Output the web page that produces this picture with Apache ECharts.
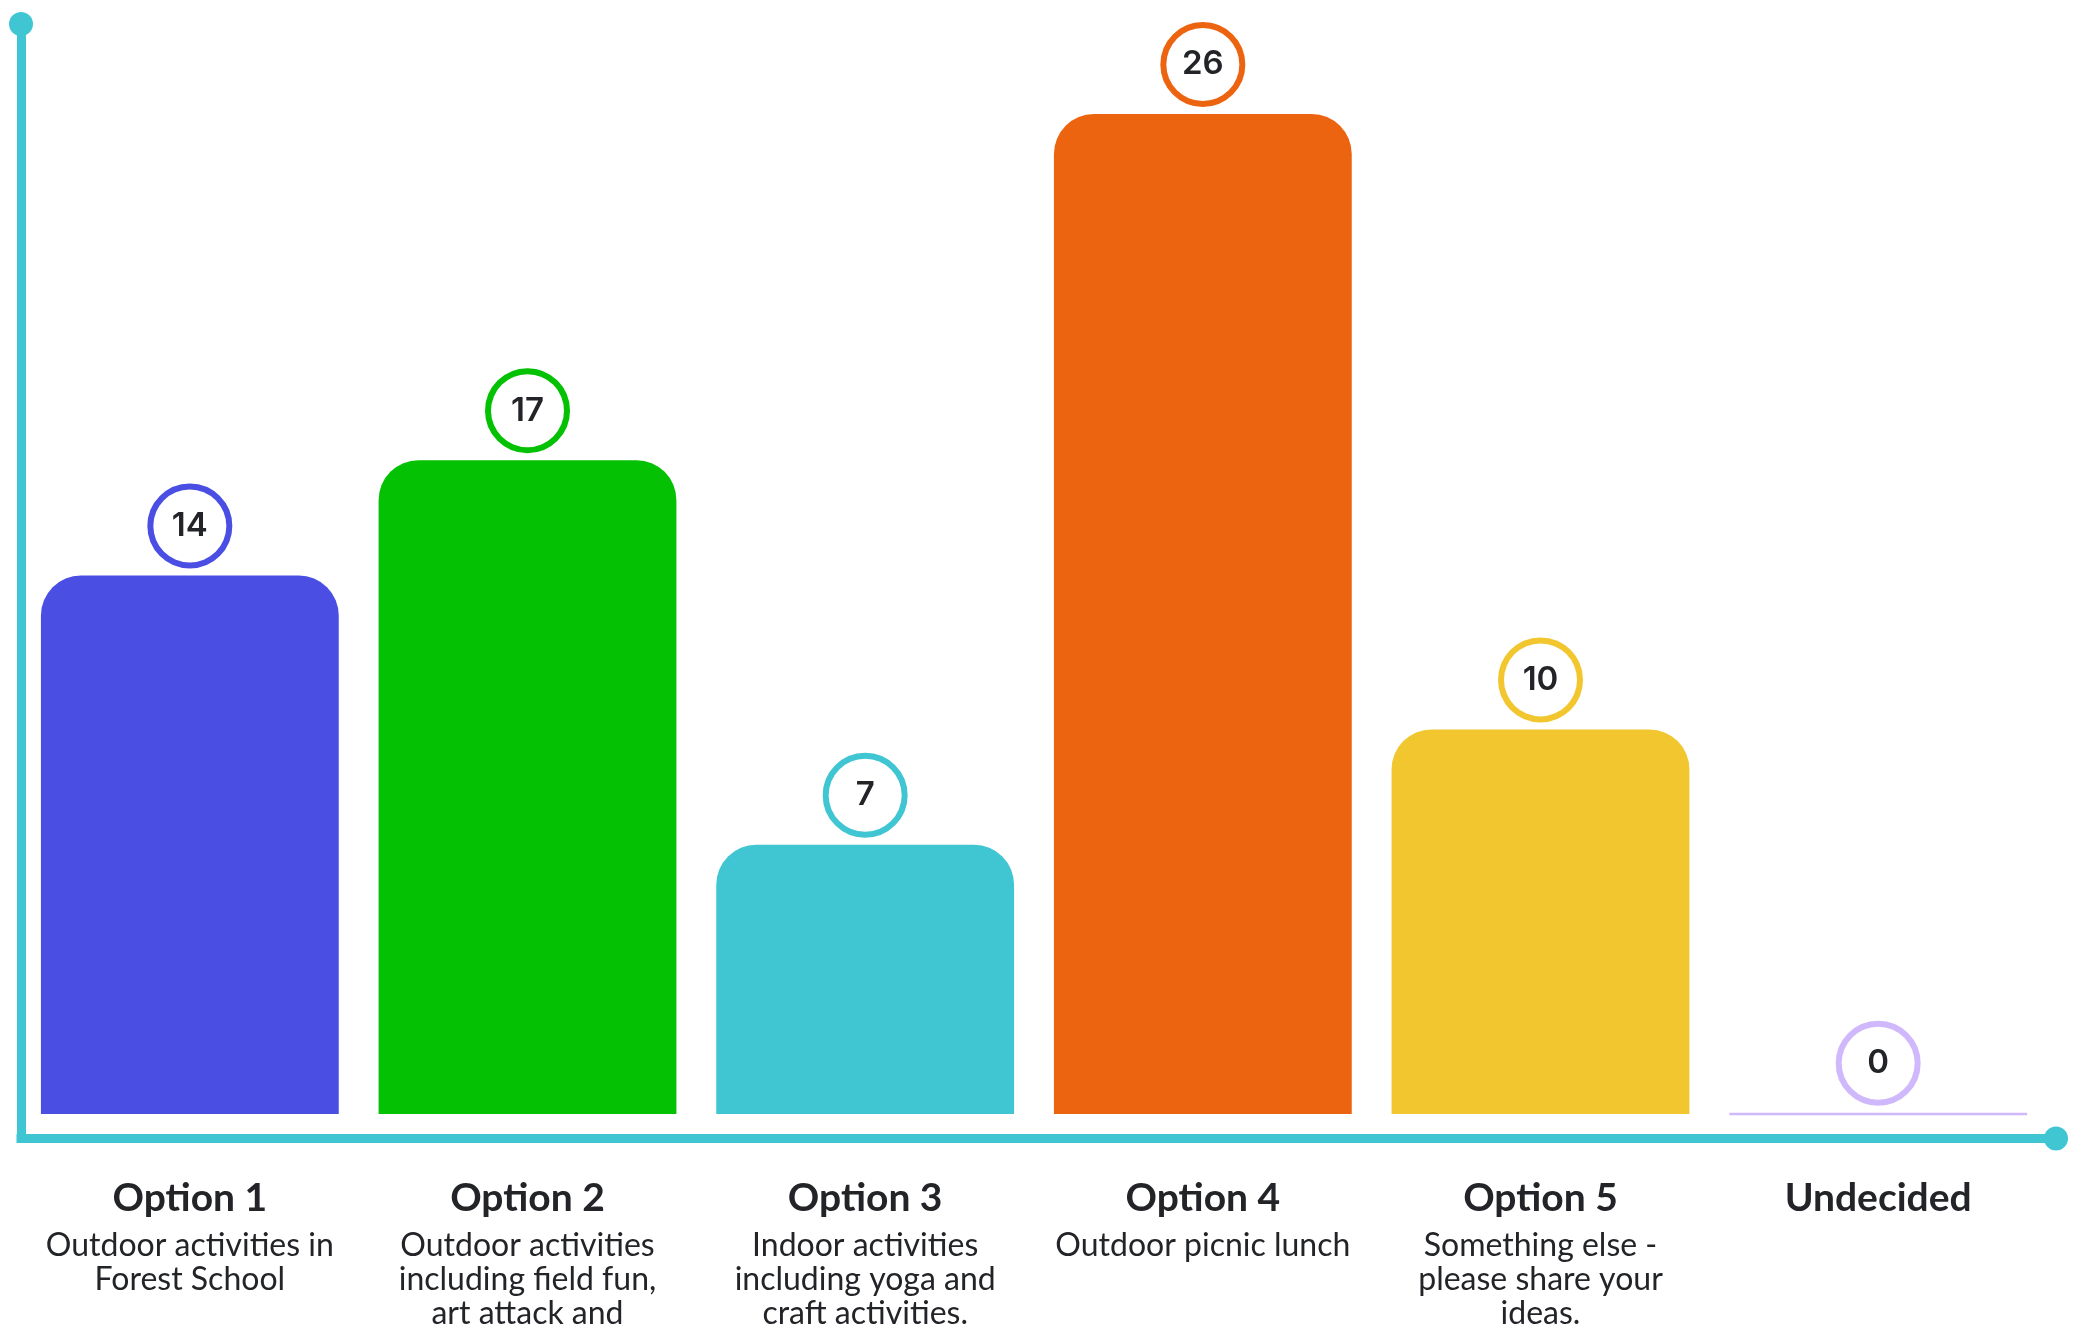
<!DOCTYPE html>
<html>
<head>
<meta charset="utf-8">
<style>
  html, body { margin: 0; padding: 0; background: #ffffff; }
  #chart { width: 2085px; height: 1330px; }
</style>
<script src="https://cdn.jsdelivr.net/npm/echarts@6/dist/echarts.min.js"></script>
</head>
<body>
<div id="chart"></div>
<script>
const categories = ['Option 1', 'Option 2', 'Option 3', 'Option 4', 'Option 5', 'Undecided'];
const descriptions = [
  ['Outdoor activities in', 'Forest School'],
  ['Outdoor activities', 'including field fun,', 'art attack and'],
  ['Indoor activities', 'including yoga and', 'craft activities.'],
  ['Outdoor picnic lunch'],
  ['Something else -', 'please share your', 'ideas.'],
  []
];
const values = [14, 17, 7, 26, 10, 0];
const barColors = ['#4B4EE3', '#04C104', '#40C6D3', '#EC6410', '#F2C62F', '#D0B8FC'];

const axisColor = '#40C6D3';
const textColor = '#222428';

const chart = echarts.init(document.getElementById('chart'), null, { renderer: 'canvas' });

const seriesData = values.map((v, i) => {
  const item = {
    value: v,
    itemStyle: { color: barColors[i], borderRadius: [40, 40, 0, 0] },
    label: { borderColor: barColors[i] }
  };
  if (v === 0) {
    item.itemStyle = { color: barColors[i], borderColor: barColors[i], borderWidth: 2.5, borderRadius: 0 };
  }
  return item;
});

chart.setOption({
  animation: false,
  backgroundColor: '#ffffff',
  grid: { left: 21, right: 38, top: 24, bottom: 191.5, containLabel: false },
  xAxis: {
    type: 'category',
    data: categories,
    axisTick: { show: false },
    axisLine: {
      show: true,
      onZero: false,
      symbol: ['none', 'circle'],
      symbolSize: [24, 24],
      symbolOffset: [0, 9],
      lineStyle: { color: axisColor, width: 9, cap: 'square' }
    },
    axisLabel: {
      interval: 0,
      margin: 30,
      formatter: function (value, idx) {
        let s = '{t|' + value + '}';
        descriptions[idx].forEach(line => { s += '\n{s|' + line + '}'; });
        return s;
      },
      rich: {
        t: { fontFamily: 'Lato', fontWeight: 700, fontSize: 39, lineHeight: 60, color: textColor, align: 'center' },
        s: { fontFamily: 'Lato', fontWeight: 400, fontSize: 32, lineHeight: 34, color: textColor, align: 'center' }
      }
    }
  },
  yAxis: {
    type: 'value',
    min: -0.637,
    max: 28.34,
    splitLine: { show: false },
    axisTick: { show: false },
    axisLabel: { show: false },
    axisLine: {
      show: true,
      onZero: false,
      offset: 3.5,
      symbol: ['none', 'circle'],
      symbolSize: [24, 24],
      symbolOffset: [0, 0],
      lineStyle: { color: axisColor, width: 9, cap: 'square' }
    }
  },
  series: [{
    type: 'bar',
    data: seriesData,
    barCategoryGap: '11.8%',
    label: {
      show: true,
      position: 'top',
      distance: 13,
      formatter: '{c}',
      width: 73,
      height: 73,
      lineHeight: 73,
      padding: 0,
      align: 'center',
      backgroundColor: '#ffffff',
      borderWidth: 6,
      borderRadius: 40,
      fontFamily: 'Inter',
      fontWeight: 600,
      fontSize: 33,
      color: textColor
    }
  }]
});
</script>
</body>
</html>
